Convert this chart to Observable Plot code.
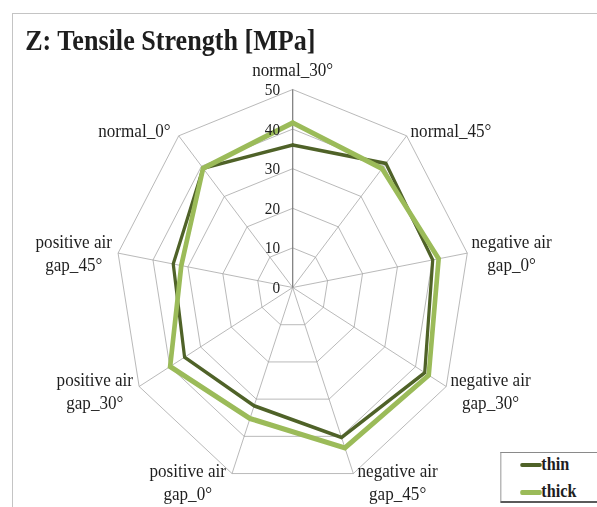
<!DOCTYPE html>
<html><head><meta charset="utf-8">
<script src="https://cdn.jsdelivr.net/npm/d3@7"></script>
<script src="https://cdn.jsdelivr.net/npm/@observablehq/plot@0.6"></script>
<style>
html,body{margin:0;padding:0;background:#fff;}
#wrap{position:relative;width:597px;height:507px;overflow:hidden;background:#fff;}
#border{position:absolute;left:12px;top:13px;width:800px;height:800px;border-left:1px solid #c4c4c4;border-top:1px solid #c4c4c4;}
#inner{position:absolute;left:0;top:0;width:663px;height:507px;transform:scaleX(0.9);transform-origin:0 0;}
#inner svg{position:absolute;left:0;top:0;}
#title{position:absolute;left:28px;top:25.5px;font-family:"Liberation Serif",serif;font-weight:bold;font-size:29px;line-height:29px;white-space:nowrap;color:#1e1e1e;}
#legend{position:absolute;left:555.5px;top:452px;width:300px;height:48px;border:1px solid #8a8a8a;border-bottom:2px solid #5a5a5a;background:#fff;}
.item{position:absolute;left:0;height:18px;font-family:"Liberation Serif",serif;font-weight:bold;font-size:18px;line-height:18px;color:#1e1e1e;white-space:nowrap;}
.sw{position:absolute;left:21px;width:24px;border-radius:2px;}
.lab{position:absolute;left:45px;top:0;}
</style>
</head><body>
<div id="wrap">
  <div id="border"></div>
  <div id="inner">
    <div id="title"></div>
    <div id="legend"></div>
  </div>
</div>
<script>
const title = "Z: Tensile Strength [MPa]";
const categories = ["normal_30°","normal_45°","negative air\ngap_0°","negative air\ngap_30°","negative air\ngap_45°","positive air\ngap_0°","positive air\ngap_30°","positive air\ngap_45°","normal_0°"];
const thinValues  = [36.0, 40.9, 40.1, 43.0, 40.3, 31.8, 35.2, 34.2, 39.3];
const thickValues = [41.6, 39.2, 41.8, 44.3, 43.1, 35.2, 39.9, 31.9, 39.3];
const tickValues = [0, 10, 20, 30, 40, 50];
const seriesNames = ["thin", "thick"];
const seriesColors = ["#4f6228", "#9bbb59"];

const n = categories.length;
const maxV = d3.max(tickValues);
const ang = i => (i % n) * 2 * Math.PI / n;
const px = (r, i) => r * Math.sin(ang(i));
const py = (r, i) => r * Math.cos(ang(i));

const rings = [];
for (const t of tickValues.filter(t => t > 0)) for (let i = 0; i <= n; i++) rings.push({t, i});
const spokes = categories.map((c, i) => ({i}));
const seriesData = [];
[thinValues, thickValues].forEach((vals, s) => {
  for (let i = 0; i <= n; i++) seriesData.push({series: seriesNames[s], i, v: vals[i % n]});
});
const pad = 12.5;
const labels = categories.map((c, i) => {
  const s = Math.sin(ang(i)), co = Math.cos(ang(i));
  const side = Math.abs(s) < 1e-6 ? 0 : Math.sign(s);
  return {c, x: px(maxV, i) + side * pad, y: py(maxV, i) + (side === 0 ? 5.4 : 2 * co)};
});
const ticksData = tickValues.map(t => ({t}));

const cx = 324.7, cy = 287, Rx = 197, Ry = 198;
const lineStyle = {strokeLinejoin: "miter", strokeMiterlimit: 4};
const chart = Plot.plot({
  width: 663, height: 507, margin: 0,
  x: {domain: [-maxV, maxV], range: [cx - Rx, cx + Rx], axis: null},
  y: {domain: [-maxV, maxV], range: [cy + Ry, cy - Ry], axis: null},
  color: {domain: seriesNames, range: seriesColors},
  style: {fontFamily: "Liberation Serif", background: "transparent", overflow: "visible"},
  marks: [
    Plot.line(rings, {x: d => px(d.t, d.i), y: d => py(d.t, d.i), z: "t", stroke: "#a3a3a3", strokeWidth: 0.8, curve: "linear"}),
    Plot.link(spokes.filter(d => d.i !== 0), {x1: 0, y1: 0, x2: d => px(maxV, d.i), y2: d => py(maxV, d.i), stroke: "#a3a3a3", strokeWidth: 0.8}),
    Plot.link(spokes.filter(d => d.i === 0), {x1: 0, y1: 0, x2: d => px(maxV, d.i), y2: d => py(maxV, d.i), stroke: "#7f7f7f", strokeWidth: 1.4}),
    Plot.line(seriesData.filter(d => d.series === "thin"), {x: d => px(d.v, d.i), y: d => py(d.v, d.i), stroke: "series", strokeWidth: 3.6, ...lineStyle}),
    Plot.line(seriesData.filter(d => d.series === "thick"), {x: d => px(d.v, d.i), y: d => py(d.v, d.i), stroke: "series", strokeWidth: 5.2, ...lineStyle}),
    Plot.text(ticksData, {x: 0, y: "t", text: d => String(d.t), textAnchor: "end", lineAnchor: "middle", dx: -14, fontSize: 17, fill: "#1e1e1e"}),
    Plot.text(labels, {x: "x", y: "y", text: "c", textAnchor: "middle", lineAnchor: "middle", fontSize: 19, lineHeight: 1.22, fill: "#1e1e1e"})
  ]
});
document.getElementById("inner").insertBefore(chart, document.getElementById("title"));
document.getElementById("title").textContent = title;

const legend = document.getElementById("legend");
const rowTops = [2, 29];
const swW = [4, 5];
seriesNames.forEach((name, k) => {
  const item = document.createElement("div");
  item.className = "item";
  item.style.top = rowTops[k] + "px";
  const sw = document.createElement("div");
  sw.className = "sw";
  sw.style.background = seriesColors[k];
  sw.style.height = swW[k] + "px";
  sw.style.top = (10 - swW[k] / 2) + "px";
  const lab = document.createElement("span");
  lab.className = "lab";
  lab.textContent = name;
  item.appendChild(sw); item.appendChild(lab);
  legend.appendChild(item);
});
</script>
</body></html>
